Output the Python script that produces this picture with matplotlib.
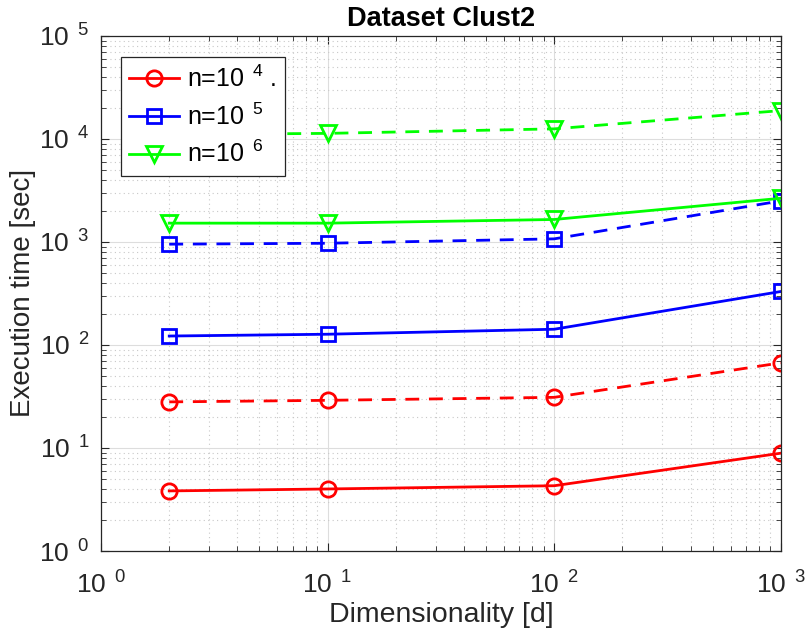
import matplotlib
matplotlib.use("Agg")
import matplotlib.pyplot as plt
from matplotlib.ticker import LogLocator, NullFormatter

plt.rcParams['font.family'] = ['Liberation Sans', 'DejaVu Sans']
plt.rcParams['mathtext.fontset'] = 'custom'
plt.rcParams['mathtext.rm'] = 'Liberation Sans'
plt.rcParams['mathtext.it'] = 'Liberation Sans'

# data
dims = [2, 10, 100, 1000]
red_solid = [3.83, 4.0, 4.3, 8.9]
red_dashed = [28, 29, 31, 67]
blue_solid = [122, 127, 142, 330]
blue_dashed = [950, 970, 1070, 2500]
green_solid = [1520, 1520, 1650, 2650]
green_dashed = [11000, 11300, 12500, 18800]
legend_labels = ["n=10$^{\\;\\ 4}$ .", "n=10$^{\\;\\ 5}$", "n=10$^{\\;\\ 6}$"]
x_ticks = [1, 10, 100, 1000]
y_ticks = [1, 10, 100, 1000, 10000, 100000]

fig = plt.figure(figsize=(8.05, 6.44), dpi=100)
ax = fig.add_axes([0.1255, 0.1444, 0.8445, 0.8])

lw = 2.0
style = dict(lw=lw, mfc='none', mew=2.0)
dash = (5, 3.5)

# dashed series (no legend entries)
ax.plot(dims, red_dashed, color=(1, 0, 0), ls='--', marker='o', ms=11, dashes=dash, **style)
ax.plot(dims, blue_dashed, color=(0, 0, 1), ls='--', marker='s', ms=10, dashes=dash, **style)
ax.plot(dims, green_dashed, color=(0, 1, 0), ls='--', marker='v', ms=12, dashes=dash, **style)

h1, = ax.plot(dims, red_solid, color=(1, 0, 0), marker='o', ms=11, **style)
h2, = ax.plot(dims, blue_solid, color=(0, 0, 1), marker='s', ms=10, **style)
h3, = ax.plot(dims, green_solid, color=(0, 1, 0), marker='v', ms=12, **style)

ax.set_xscale('log')
ax.set_yscale('log')
ax.set_xlim(1, 1000)
ax.set_ylim(1, 1e5)

ax.set_xticks(x_ticks)
ax.set_xticklabels(["10$^{\\;\\ %d}$" % i for i in range(len(x_ticks))])
ax.set_yticks(y_ticks)
ax.set_yticklabels(["10$^{\\;\\ %d}$" % i for i in range(len(y_ticks))])
ax.xaxis.set_minor_locator(LogLocator(base=10, subs=range(2, 10)))
ax.yaxis.set_minor_locator(LogLocator(base=10, subs=range(2, 10)))
ax.xaxis.set_minor_formatter(NullFormatter())
ax.yaxis.set_minor_formatter(NullFormatter())

ax.tick_params(which='both', direction='in', top=True, right=True,
               color='#262626', labelcolor='#262626')
ax.tick_params(which='major', length=6, width=0.8, labelsize=19)
ax.tick_params(axis='x', which='major', pad=15)
ax.tick_params(axis='y', which='major', pad=8)
ax.tick_params(which='minor', length=3.5, width=0.6)

ax.grid(True, which='major', color='#dddddd', lw=0.8, ls='-')
ax.grid(True, which='minor', color='#c8c8c8', lw=0.8, ls=(0, (1, 3)))
ax.set_axisbelow(True)
for s in ax.spines.values():
    s.set_color('#262626')
    s.set_linewidth(0.9)

ax.set_xlabel("Dimensionality [d]", fontsize=20.5, color='#262626', labelpad=2)
ax.set_ylabel("Execution time [sec]", fontsize=20, color='#262626', labelpad=2)
ax.set_title("Dataset Clust2", fontsize=19.5, fontweight='bold', pad=7)

leg = ax.legend([h1, h2, h3], legend_labels, loc='upper left',
                bbox_to_anchor=(0.029, 0.959), fontsize=18, fancybox=False,
                framealpha=1, edgecolor='#262626', handlelength=2.0,
                handletextpad=0.3, borderpad=0.35, labelspacing=0.45,
                borderaxespad=0)
leg.get_frame().set_linewidth(0.9)

fig.savefig("out.png", dpi=100)
